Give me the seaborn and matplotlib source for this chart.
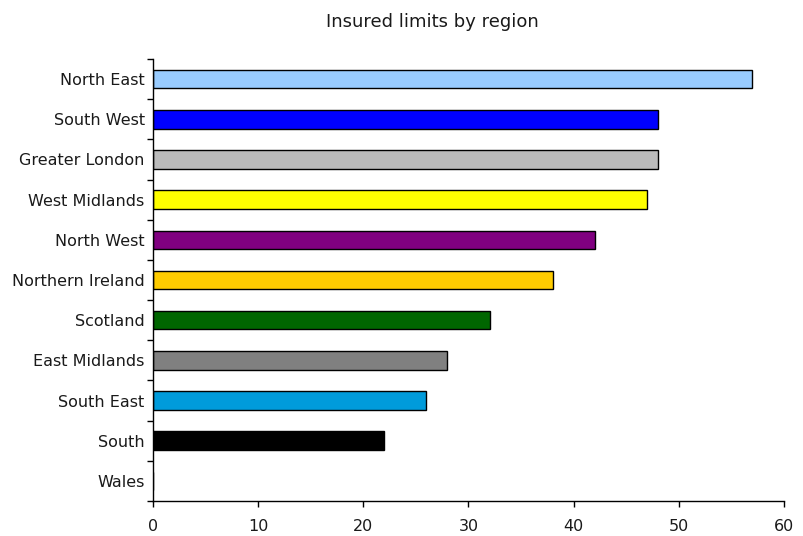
import numpy as np
import pandas as pd
import matplotlib
matplotlib.use("Agg")
import matplotlib.pyplot as plt
from matplotlib.ticker import FixedLocator
import seaborn as sns

regions = ["North East", "South West", "Greater London", "West Midlands",
           "North West", "Northern Ireland", "Scotland", "East Midlands",
           "South East", "South", "Wales"]
limits = [57, 48, 48, 47, 42, 38, 32, 28, 26, 22, 0]
colors = ["#99CCFF", "#0000FF", "#BBBBBB", "#FFFF00", "#800080", "#FFCC00",
          "#006600", "#808080", "#009BDB", "#000000", "#FFFFFF"]
x_ticks = [0, 10, 20, 30, 40, 50, 60]

sns.set_style("white")
plt.rcParams["font.family"] = ["DejaVu Sans"]

df = pd.DataFrame({"region": regions, "limit": limits})

fig = plt.figure(figsize=(8.04, 5.36), dpi=100)
ax = fig.add_axes([153 / 804, 1 - 501 / 536, (784 - 153) / 804, (501 - 59) / 536])

sns.barplot(data=df, y="region", x="limit", hue="region", order=regions,
            hue_order=regions, palette=colors, saturation=1, orient="h", width=0.46,
            edgecolor="black", linewidth=1.0, legend=False, ax=ax)

ax.set_xlim(0, 60)
ax.set_ylim(len(regions) - 0.5, -0.5)
ax.xaxis.set_major_locator(FixedLocator(x_ticks))
ax.set_xticklabels([str(t) for t in x_ticks])
ax.yaxis.set_minor_locator(FixedLocator(np.arange(-0.5, len(regions), 1)))
ax.tick_params(axis="y", which="major", left=True, length=0, pad=6,
               labelsize=11.5, labelcolor="#1a1a1a")
ax.tick_params(axis="y", which="minor", left=True, length=4, width=1,
               color="black", direction="out")
ax.tick_params(axis="x", which="major", bottom=True, length=4, width=1,
               color="black", direction="out", pad=9, labelsize=11.5,
               labelcolor="#1a1a1a")
ax.set_xlabel("")
ax.set_ylabel("")

for side in ("top", "right"):
    ax.spines[side].set_visible(False)
for side in ("left", "bottom"):
    ax.spines[side].set_color("black")
    ax.spines[side].set_linewidth(1)
    ax.spines[side].set_zorder(5)

fig.text(432 / 804, 1 - 22 / 536, "Insured limits by region", ha="center", va="center",
         fontsize=13, color="#1a1a1a")

fig.savefig("out.png", dpi=100, facecolor="white")
